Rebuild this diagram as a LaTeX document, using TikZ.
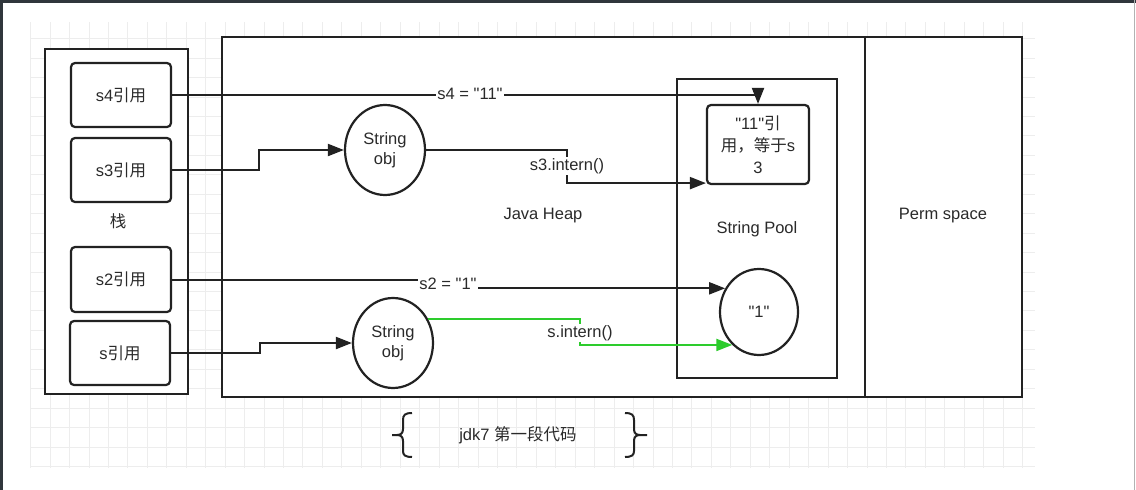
\documentclass[tikz,border=0pt]{standalone}
\usepackage{fontspec}
\setmainfont{Liberation Sans}[Ligatures=TeXOff]
\newfontfamily\cjk{Noto Sans CJK SC}
\usetikzlibrary{arrows.meta,shapes.geometric}
\definecolor{ink}{HTML}{222222}
\definecolor{txt}{HTML}{2A2A2A}
\definecolor{gridc}{HTML}{EDEDED}
\definecolor{framec}{HTML}{30363C}
\definecolor{gr}{HTML}{2DCC2D}
\begin{document}
\begin{tikzpicture}[x=1pt,y=-1pt,
  font=\fontsize{16.5}{20}\selectfont,
  every node/.style={text=txt},
  bigbox/.style={draw=ink, line width=2.4pt, fill=white, rectangle, inner sep=0pt},
  refbox/.style={draw=ink, line width=2.2pt, fill=white, rounded corners=4pt, minimum width=100pt, minimum height=64pt, inner sep=0pt},
  objnode/.style={draw=ink, line width=2.2pt, fill=white, ellipse, minimum width=80pt, minimum height=90pt, inner sep=0pt, align=center},
  conn/.style={draw=ink, line width=2pt},
  arr/.style={conn, -{Triangle[length=16pt,width=12pt]}},
  lbl/.style={fill=white, inner sep=1.5pt}
]
\useasboundingbox (0,0) rectangle (1136,490);
\fill[white] (0,0) rectangle (1136,490);
\fill[framec] (0,0) rectangle (1136,3);
\fill[framec] (0,0) rectangle (3,490);
\draw[gray!60, line width=1pt] (1134.5,0) -- (1134.5,490);
% grid
\begin{scope}
\clip (30,22) rectangle (1035,468);
\foreach \i in {-1,...,51} \draw[gridc, line width=0.8pt] ({50+19.45*\i},22) -- ++(0,446);
\foreach \j in {-23,...,1} \draw[gridc, line width=0.8pt] (30,{447+19.45*\j}) -- ++(1005,0);
\end{scope}

% containers
\node[bigbox, minimum width=143pt, minimum height=345pt] (stack) at (116.5,221.5) {};
\node[bigbox, minimum width=643pt, minimum height=360pt] (heap) at (543.5,217) {};
\node[bigbox, minimum width=157pt, minimum height=360pt] (perm) at (943.5,217) {};
\node[bigbox, minimum width=160pt, minimum height=299pt] (pool) at (757,228.5) {};

\node (stacklbl) at (118,221) {\cjk 栈};
\node (heaplbl) at (543,216) {Java Heap};
\node (poollbl) at (757,229) {String Pool};
\node (permlbl) at (943,216) {Perm space};

% reference boxes
\node[refbox] (s4) at (121,95) {s4{\cjk 引用}};
\node[refbox] (s3) at (121,170) {s3{\cjk 引用}};
\node[refbox, minimum height=65pt] (s2) at (121,279.5) {s2{\cjk 引用}};
\node[refbox] (s) at (120,353) {s{\cjk 引用}};

% objects
\node[objnode] (o1) at (385,150) {String\\obj};
\node[objnode] (o2) at (393,343) {String\\obj};
\node[refbox, minimum width=102pt, minimum height=79pt, align=center, font=\fontsize{16.5}{22}\selectfont] (p11) at (758,144.5) {"11"{\cjk 引}\\{\cjk 用，等于}s\\3};
\node[objnode, minimum width=78pt, minimum height=86pt] (c1) at (759,312) {"1"};

% connectors
\coordinate (k1) at (259,160);
\draw[arr] (s3.east) -| (k1) |- (o1.west);
\coordinate (k2) at (260,348);
\draw[arr] (s.east) -| (k2) |- (o2.west);

\draw[arr] (s4.east) -| (p11.north);
\node[lbl] (l4) at (470,94) {s4 = "11"};

\coordinate (m2) at (448,284);
\draw[arr] (s2.east) -| (m2) |- (c1.145);
\node[lbl] (l2) at (448,284) {s2 = "1"};

\coordinate (m1) at (567,166);
\draw[arr] (o1.east) -| (m1) |- ([yshift=2pt]p11.south west);
\node[lbl] (l3) at (567,166) {s3.intern()};

\coordinate (m3) at (580,333);
\draw[arr, draw=gr] (o2.34) -| (m3) |- (c1.231);
\node[lbl] (l1) at (580,333) {s.intern()};

% bottom caption with braces
\draw[ink, line width=2pt] (412,413) .. controls (405,413) and (403,415) .. (403,420) -- (403,429) .. controls (403,433) and (401,435) .. (397,435) -- (392,435);
\draw[ink, line width=2pt] (397,435) .. controls (401,435) and (403,437) .. (403,441) -- (403,451) .. controls (403,455) and (405,457) .. (412,457);
\draw[ink, line width=2pt] (625,413) .. controls (632,413) and (634,415) .. (634,420) -- (634,429) .. controls (634,433) and (636,435) .. (640,435) -- (647,435);
\draw[ink, line width=2pt] (640,435) .. controls (636,435) and (634,437) .. (634,441) -- (634,451) .. controls (634,455) and (632,457) .. (625,457);
\node (cap) at (518,435) {jdk7 {\cjk 第一段代码}};
\end{tikzpicture}
\end{document}
